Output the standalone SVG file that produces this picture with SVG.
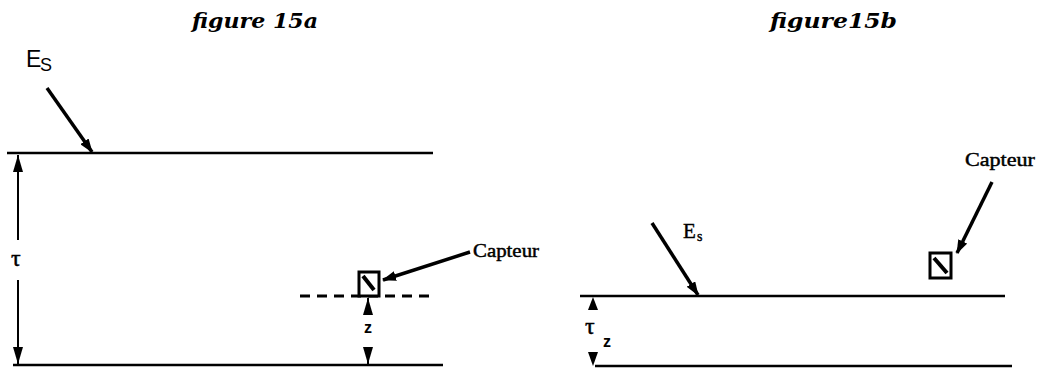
<svg xmlns="http://www.w3.org/2000/svg" width="1040" height="369" viewBox="0 0 1040 369">
<style>
.bg{fill:#fff}
.ln{stroke:#000;stroke-width:2.5;fill:none}
.arr{stroke:#000;stroke-width:3.5;fill:none;marker-end:url(#ah)}
.dim{stroke:#000;stroke-width:2;fill:none}
.title{font-family:"DejaVu Serif",serif;font-weight:bold;font-style:italic;font-size:21px;fill:#000}
.sans{font-family:"Liberation Sans",sans-serif;fill:#000}
.serif{font-family:"Liberation Serif",serif;fill:#000}
.cap{font-family:"Liberation Serif",serif;fill:#000;stroke:#000;stroke-width:0.45}
.box{fill:#fff;stroke:#000;stroke-width:3}
</style>
<defs>
<marker id="ah" viewBox="0 0 14 10" markerWidth="14" markerHeight="10" refX="13" refY="5" orient="auto-start-reverse" markerUnits="userSpaceOnUse">
<path d="M0,0 L14,5 L0,10 z" fill="#000"/>
</marker>
<marker id="vh" viewBox="0 0 18 12" markerWidth="18" markerHeight="12" refX="17" refY="6" orient="auto-start-reverse" markerUnits="userSpaceOnUse">
<path d="M0,1 L17,6 L0,11 z" fill="#000"/>
</marker>
</defs>
<rect class="bg" x="0" y="0" width="1040" height="369"/>

<g id="fig15a">
<text class="title" x="192" y="28" textLength="126" lengthAdjust="spacingAndGlyphs">figure  15a</text>
<g id="layer-a">
<line class="ln" x1="7" y1="153" x2="433" y2="153"/>
<line class="ln" x1="13" y1="365" x2="443" y2="365"/>
<line x1="300" y1="296" x2="433" y2="296" stroke="#000" stroke-width="3" stroke-dasharray="10,7"/>
</g>
<g id="label-es-a">
<text class="sans" x="26" y="67" font-size="23">E</text>
<text class="sans" x="40" y="71" font-size="18">S</text>
</g>
<g id="label-tau-a">
<text class="serif" x="11" y="266" font-size="24" stroke="#000" stroke-width="0.5">τ</text>
</g>
<g id="capteur-a">
<rect class="box" x="359" y="272" width="20" height="24"/>
<line x1="363" y1="276" x2="374" y2="290" stroke="#000" stroke-width="4"/>
<text class="cap" x="473" y="257" font-size="18" textLength="66" lengthAdjust="spacingAndGlyphs">Capteur</text>
</g>
<g id="label-z-a">
<text class="sans" x="364" y="333" font-size="16" font-weight="bold">z</text>
</g>
</g>

<g id="fig15b">
<text class="title" x="770" y="28" textLength="127" lengthAdjust="spacingAndGlyphs">figure15b</text>
<g id="layer-b">
<line class="ln" x1="580" y1="296" x2="1005" y2="296"/>
<line class="ln" x1="595" y1="366" x2="1012" y2="366"/>
</g>
<g id="label-es-b">
<text class="serif" x="683" y="238" font-size="21" stroke="#000" stroke-width="0.4">E</text>
<text class="serif" x="697" y="241" font-size="14" stroke="#000" stroke-width="0.4">s</text>
</g>
<g id="capteur-b">
<rect class="box" x="930" y="253" width="21" height="25"/>
<line x1="934" y1="258" x2="947" y2="273" stroke="#000" stroke-width="4"/>
<text class="cap" x="965" y="166" font-size="19" textLength="70" lengthAdjust="spacingAndGlyphs">Capteur</text>
</g>
<g id="label-tauz-b">
<text class="serif" x="585" y="334" font-size="24" stroke="#000" stroke-width="0.5">τ</text>
<text class="sans" x="603" y="347" font-size="16" font-weight="bold">z</text>
</g>
</g>

<g id="connectors">
<line class="arr" x1="47" y1="88" x2="92" y2="152"/>
<line class="dim" x1="18" y1="155" x2="18" y2="240" marker-start="url(#vh)"/>
<line class="dim" x1="18" y1="280" x2="18" y2="364" marker-end="url(#vh)"/>
<line class="arr" x1="470" y1="252" x2="383" y2="280"/>
<line class="dim" x1="368" y1="298" x2="368" y2="315" marker-start="url(#vh)"/>
<line class="dim" x1="368" y1="347" x2="368" y2="364" marker-end="url(#vh)"/>
<line class="arr" x1="652" y1="223" x2="698" y2="295"/>
<line class="arr" x1="992" y1="182" x2="957" y2="253"/>
<polygon points="593,297 598,310 588,310" fill="#000"/>
<polygon points="588,352 598,352 593,366" fill="#000"/>
</g>
</svg>
